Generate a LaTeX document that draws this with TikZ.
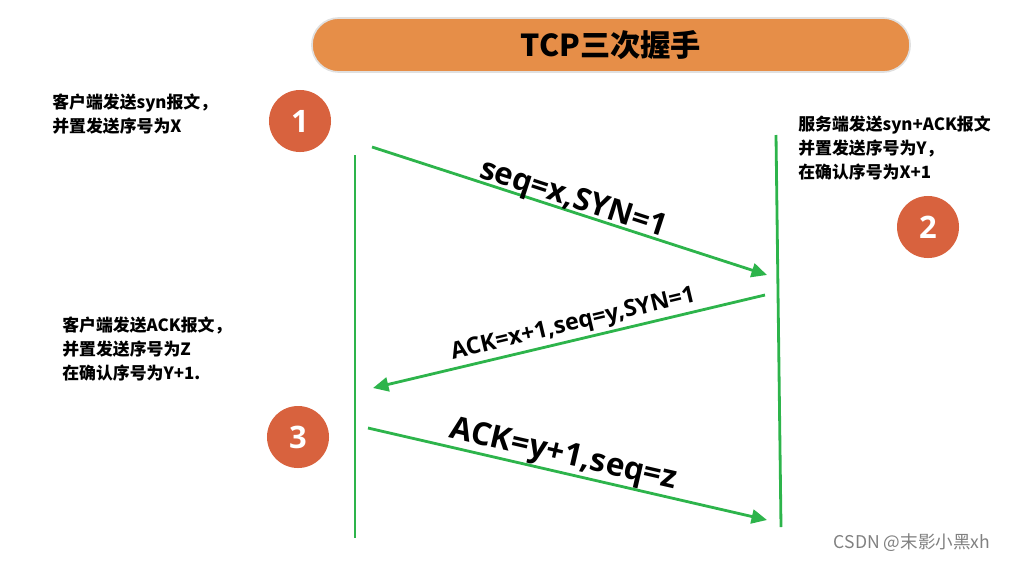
\documentclass[tikz,border=0pt]{standalone}
\usepackage{fontspec}
\setmainfont{Noto Sans CJK SC}
\newfontfamily\labelfont{Open Sans}
\usetikzlibrary{arrows.meta}

\definecolor{msggreen}{RGB}{45,180,75}
\definecolor{pillorange}{RGB}{230,142,72}
\definecolor{steporange}{RGB}{216,98,62}

\begin{document}
\begin{tikzpicture}[x=0.025cm, y=-0.025cm,
		lifeline/.style={draw=msggreen, line width=2pt},
		msg/.style={draw=msggreen, line width=2pt, -{Triangle[length=11pt,width=10pt]}},
		stepdot/.style={circle, fill=steporange, minimum size=1.55cm, inner sep=0pt, text=white, font=\labelfont\bfseries\fontsize{22}{22}\selectfont},
		note/.style={anchor=north west, inner sep=0pt, align=left, font=\bfseries\fontsize{12}{17}\selectfont},
		msglabel/.style={sloped, inner sep=0pt, font=\labelfont\bfseries\fontsize{#1}{#1}\selectfont}]
		\useasboundingbox (0,0) rectangle (1012,561);
		% title
		\node[fill=pillorange, draw=black!12, line width=1.2pt, rounded corners=0.67cm, minimum width=14.95cm, minimum height=1.35cm, font=\bfseries\fontsize{21.5}{21.5}\selectfont] (title) at (611,45) {TCP三次握手};
		% step markers
		\node[stepdot] (n1) at (300,121) {1};
		\node[stepdot] (n2) at (928,227) {2};
		\node[stepdot] (n3) at (298,437) {3};
		% notes
		\node[note] (note1) at (52,94) {客户端发送syn报文，\\并置发送序号为X};
		\node[note] (note2) at (798,116) {服务端发送syn+ACK报文\\并置发送序号为Y，\\在确认序号为X+1};
		\node[note] (note3) at (62,317) {客户端发送ACK报文，\\并置发送序号为Z\\在确认序号为Y+1.};
		% lifelines
		\coordinate (cliTop) at (355,155);
		\coordinate (cliBot) at (355,538);
		\coordinate (srvTop) at (776,135);
		\coordinate (srvBot) at (781,527);
		\draw[lifeline] (cliTop) -- (cliBot);
		\draw[lifeline] (srvTop) -- (srvBot);
		% messages
		\coordinate (a1s) at (372,147);
		\coordinate (a1e) at (767,275);
		\coordinate (a2s) at (765,295);
		\coordinate (a2e) at (373,388);
		\coordinate (a3s) at (368,428);
		\coordinate (a3e) at (767,520);
		\draw[msg] (a1s) -- node[msglabel=22, anchor=base, yshift=3pt] {seq=x,SYN=1} (a1e);
		\draw[msg] (a2s) -- node[msglabel=16.5, anchor=south, inner sep=2pt, pos=0.48] {ACK=x+1,seq=y,SYN=1} (a2e);
		\draw[msg] (a3s) -- node[msglabel=22.5, anchor=south, pos=0.48] {ACK=y+1,seq=z} (a3e);
		% watermark
		\node[text=black!50, font=\fontsize{12.5}{12.5}\selectfont] (mark) at (912,543) {CSDN @末影小黑xh};
	\end{tikzpicture}
\end{document}
